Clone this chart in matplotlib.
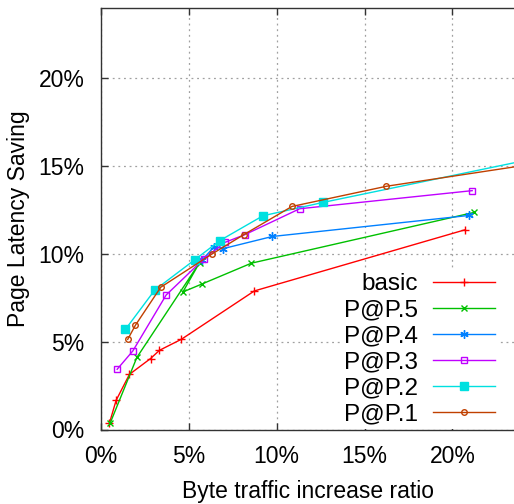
import matplotlib
matplotlib.use("Agg")
import matplotlib.pyplot as plt
from matplotlib.ticker import FuncFormatter, MultipleLocator

plt.rcParams['font.family'] = ['Liberation Sans', 'DejaVu Sans']

# Data (percent)
basic_x = [0.48, 0.86, 1.62, 2.82, 3.33, 4.58, 8.73, 20.72]
basic_y = [0.36, 1.66, 3.14, 4.04, 4.51, 5.14, 7.89, 11.37]

p5_x = [0.52, 2.04, 5.61, 4.66, 5.76, 8.56, 21.23]
p5_y = [0.36, 4.10, 9.50, 7.83, 8.29, 9.47, 12.36]

p4_x = [5.76, 6.44, 6.96, 9.75, 20.96]
p4_y = [9.66, 10.40, 10.30, 10.99, 12.19]

p3_x = [0.92, 1.81, 3.71, 5.84, 7.04, 8.18, 11.31, 21.13]
p3_y = [3.43, 4.47, 7.66, 9.70, 10.65, 11.09, 12.57, 13.60]

p2_x = [1.39, 3.06, 5.33, 6.77, 9.22, 12.64, 24.5]
p2_y = [5.70, 7.94, 9.66, 10.76, 12.17, 12.93, 15.39]

p1_x = [1.52, 1.96, 3.40, 6.33, 8.12, 10.87, 16.25, 24.5]
p1_y = [5.13, 5.94, 8.10, 10.00, 11.09, 12.70, 13.85, 15.10]

labels = ["basic", "P@P.5", "P@P.4", "P@P.3", "P@P.2", "P@P.1"]

fig = plt.figure(figsize=(5.14, 5.04), dpi=100)
ax = fig.add_axes([101 / 514, 1 - 429.5 / 504, 1 - 101 / 514, (429.5 - 8) / 504])

lw = 1.0
ax.plot(basic_x, basic_y, color='#ff0000', lw=lw, marker='+', ms=6, mew=1.0, label=labels[0])
ax.plot(p5_x, p5_y, color='#00c000', lw=lw, marker='x', ms=5, mew=1.0, label=labels[1])
ax.plot(p4_x, p4_y, color='#0080ff', lw=lw, marker=(6, 2, 0), ms=6, mew=1.0, label=labels[2])
ax.plot(p3_x, p3_y, color='#c000ff', lw=lw, marker='s', ms=5, mew=1.0, mfc='none', label=labels[3])
ax.plot(p2_x, p2_y, color='#00e0e0', lw=lw, marker='s', ms=5.5, mew=1.0, label=labels[4])
ax.plot(p1_x, p1_y, color='#c04000', lw=lw, marker='o', ms=4, mew=1.0, mfc='none', label=labels[5])

ax.set_xlim(0, 23.51)
ax.set_ylim(0, 24.0)
ax.xaxis.set_major_locator(MultipleLocator(5))
ax.yaxis.set_major_locator(MultipleLocator(5))
pct = FuncFormatter(lambda v, p: f"{int(round(v))}%")
ax.xaxis.set_major_formatter(pct)
ax.yaxis.set_major_formatter(pct)

ax.grid(True, color='#a0a0a0', linestyle=(0, (1.5, 3)), linewidth=0.9)
ax.tick_params(direction='in', length=5, width=1, color='#333333', labelsize=16.5,
               top=True, right=False)
ax.tick_params(axis='x', pad=11)
ax.tick_params(axis='y', pad=12)
for s in ['left', 'bottom', 'top']:
    ax.spines[s].set_color('#333333')
    ax.spines[s].set_linewidth(1.0)
ax.spines['right'].set_visible(False)

ax.set_xlabel("Byte traffic increase ratio", fontsize=16.5, labelpad=8.5)
ax.set_ylabel("Page Latency Saving", fontsize=16.5, labelpad=6)

leg = ax.legend(loc='lower right', bbox_to_anchor=(0.962, 0.002), fontsize=17.5,
                markerfirst=False, numpoints=1, handlelength=2.55, handletextpad=0.62,
                labelspacing=0.16, borderpad=0.15, borderaxespad=0,
                frameon=True, fancybox=False, edgecolor='none', facecolor='white',
                framealpha=1.0)

fig.savefig("out.png", dpi=100)
